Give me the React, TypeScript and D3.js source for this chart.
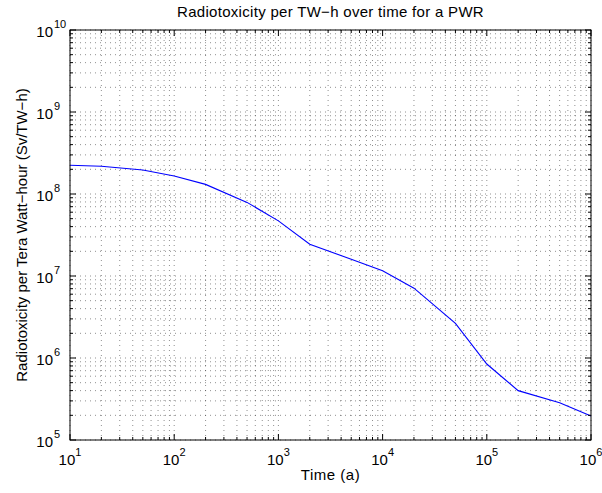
import React from "react";
import * as d3 from "d3";

const timeYears = [10, 20, 50, 100, 200, 500, 1000, 2000, 5000, 10000, 20000, 50000, 100000, 200000, 500000, 1000000];
const radiotoxicity = [2.24e8, 2.18e8, 1.96e8, 1.66e8, 1.31e8, 7.9e7, 4.7e7, 2.44e7, 1.6e7, 1.16e7, 7.1e6, 2.65e6, 8.45e5, 4.0e5, 2.85e5, 1.96e5];
const xDecades = [1, 2, 3, 4, 5, 6];
const yDecades = [5, 6, 7, 8, 9, 10];
const titleText = "Radiotoxicity per TW\u2212h over time for a PWR";
const xLabelText = "Time (a)";
const yLabelText = "Radiotoxicity per Tera Watt\u2212hour (Sv/TW\u2212h)";

const W = 602;
const H = 493;
const L = 70, R = 591, T = 30, B = 440;
const FONT = "'Liberation Sans', Arial, Helvetica, sans-serif";

function minorTicks(decades: number[]) {
  const out: number[] = [];
  for (let i = 0; i < decades.length - 1; i++) {
    for (let m = 2; m <= 9; m++) out.push(m * Math.pow(10, decades[i]));
  }
  return out;
}

export default function App() {
  const x = d3.scaleLog().domain([1e1, 1e6]).range([L, R]);
  const y = d3.scaleLog().domain([1e5, 1e10]).range([B, T]);
  const xMajor = xDecades.map((d) => Math.pow(10, d));
  const yMajor = yDecades.map((d) => Math.pow(10, d));
  const xMinor = minorTicks(xDecades);
  const yMinor = minorTicks(yDecades);
  const line = d3
    .line<number>()
    .x((_, i) => x(timeYears[i]))
    .y((d) => y(d));

  const gridStyle = { stroke: "#333", strokeWidth: 0.55, strokeDasharray: "1 4" };
  const allX = [...xMajor, ...xMinor];
  const allY = [...yMajor, ...yMinor];

  return (
    <svg width={W} height={H} style={{ position: "absolute", left: 0, top: 0, background: "#fff" }} fontFamily={FONT}>
      <rect x={0} y={0} width={W} height={H} fill="#fff" />
      <g>
        {allX.map((v, i) => (
          <line key={"gx" + i} x1={x(v)} x2={x(v)} y1={T} y2={B} {...gridStyle} />
        ))}
        {allY.map((v, i) => (
          <line key={"gy" + i} x1={L} x2={R} y1={y(v)} y2={y(v)} {...gridStyle} />
        ))}
      </g>
      <path d={line(radiotoxicity) || ""} fill="none" stroke="#0000ff" strokeWidth={1.1} />
      <g stroke="#000" strokeWidth={1}>
        {xMajor.map((v, i) => (
          <g key={"xt" + i}>
            <line x1={x(v)} x2={x(v)} y1={B} y2={B - 6} />
            <line x1={x(v)} x2={x(v)} y1={T} y2={T + 6} />
          </g>
        ))}
        {xMinor.map((v, i) => (
          <g key={"xm" + i}>
            <line x1={x(v)} x2={x(v)} y1={B} y2={B - 3} />
            <line x1={x(v)} x2={x(v)} y1={T} y2={T + 3} />
          </g>
        ))}
        {yMajor.map((v, i) => (
          <g key={"yt" + i}>
            <line x1={L} x2={L + 6} y1={y(v)} y2={y(v)} />
            <line x1={R} x2={R - 6} y1={y(v)} y2={y(v)} />
          </g>
        ))}
        {yMinor.map((v, i) => (
          <g key={"ym" + i}>
            <line x1={L} x2={L + 3} y1={y(v)} y2={y(v)} />
            <line x1={R} x2={R - 3} y1={y(v)} y2={y(v)} />
          </g>
        ))}
      </g>
      <rect x={L} y={T} width={R - L} height={B - T} fill="none" stroke="#000" strokeWidth={1} />
      {xDecades.map((d, i) => (
        <text key={"xl" + i} x={x(Math.pow(10, d))} y={465} textAnchor="middle" fontSize={15} fill="#000">
          10
          <tspan dy={-9} fontSize={11}>{d}</tspan>
        </text>
      ))}
      {yDecades.map((d, i) => (
        <g key={"yl" + i}>
          <text x={53} y={y(Math.pow(10, d)) + 7} textAnchor="end" fontSize={15} fill="#000">10</text>
          <text x={54} y={y(Math.pow(10, d)) - 2} textAnchor="start" fontSize={11} fill="#000">{d}</text>
        </g>
      ))}
      <text x={(L + R) / 2} y={17} textAnchor="middle" fontSize={15} letterSpacing={0.3} fill="#000">{titleText}</text>
      <text x={(L + R) / 2} y={480} textAnchor="middle" fontSize={15} letterSpacing={0.5} fill="#000">{xLabelText}</text>
      <text transform={`translate(27,${(T + B) / 2}) rotate(-90)`} textAnchor="middle" fontSize={15} fill="#000">{yLabelText}</text>
    </svg>
  );
}
